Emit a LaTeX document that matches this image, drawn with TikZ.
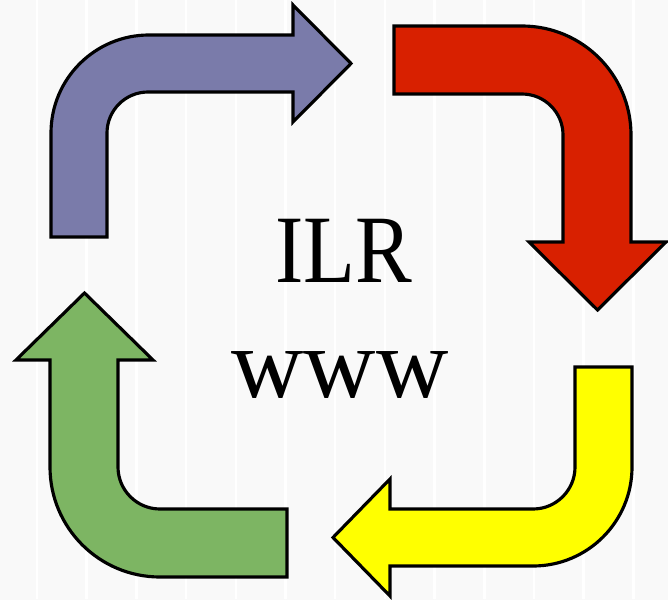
\documentclass[tikz,border=0pt]{standalone}
\usepackage{fontspec}
\setmainfont{Liberation Serif}
\usepackage{tikz}
\usetikzlibrary{calc}

\definecolor{bluearrow}{HTML}{7A7BAA}
\definecolor{redarrow}{HTML}{D82000}
\definecolor{yellowarrow}{HTML}{FFFF00}
\definecolor{greenarrow}{HTML}{7DB563}

\tikzset{
	bentarrow/.style={draw=black, line width=1.8pt, line join=miter},
	stripeline/.style={white, line width=1.4pt}
}

\begin{document}
\begin{tikzpicture}[x=0.02cm, y=0.02cm]
					\useasboundingbox (0,0) rectangle (668,599);
					
					% background stripes
					\fill[gray!2] (0,0) rectangle (668,599);
					\foreach \k in {0,...,13} {
						\shade[left color=gray!5, middle color=white, right color=gray!5]
							({37+49.7*(\k-1)},0) rectangle ({37+49.7*\k},599);
					}
					\foreach \k in {0,...,12} {
						\draw[stripeline] ({37+49.7*\k},0) -- ({37+49.7*\k},599);
					}
					
					% blue: up then right
					\draw[bentarrow, fill=bluearrow] (51,362) -- (51,466)
						arc (180:90:98) -- (293,564) -- (293,594) -- (351,535.5)
						-- (293,477) -- (293,507) -- (148,507)
						arc (90:180:41) -- (107,362) -- cycle;
					
					% red: right then down
					\draw[bentarrow, fill=redarrow] (394,573) -- (522,573)
						arc (90:0:109) -- (631,357) -- (666,357) -- (597.5,289)
						-- (529,357) -- (563,357) -- (563,464)
						arc (0:90:41) -- (394,505) -- cycle;
					
					% yellow: down then left
					\draw[bentarrow, fill=yellowarrow] (632,232) -- (632,132)
						arc (0:-90:99) -- (390,33) -- (390,3) -- (333,61.5)
						-- (390,120) -- (390,90) -- (533,90)
						arc (-90:0:42) -- (575,232) -- cycle;
					
					% green: left then up
					\draw[bentarrow, fill=greenarrow] (287,90) -- (160,90)
						arc (270:180:42) -- (118,239) -- (153,239) -- (84.5,306)
						-- (16,239) -- (50,239) -- (50,132)
						arc (180:270:110) -- (287,22) -- cycle;
					
					% centre text
					\node[anchor=base, xscale=0.88, font=\fontsize{55}{62}\selectfont] (ilr) at (343.5,317) {ILR};
					\node[anchor=base, font=\fontsize{57}{64}\selectfont] (www) at (340,202) {www};
\end{tikzpicture}
\end{document}
